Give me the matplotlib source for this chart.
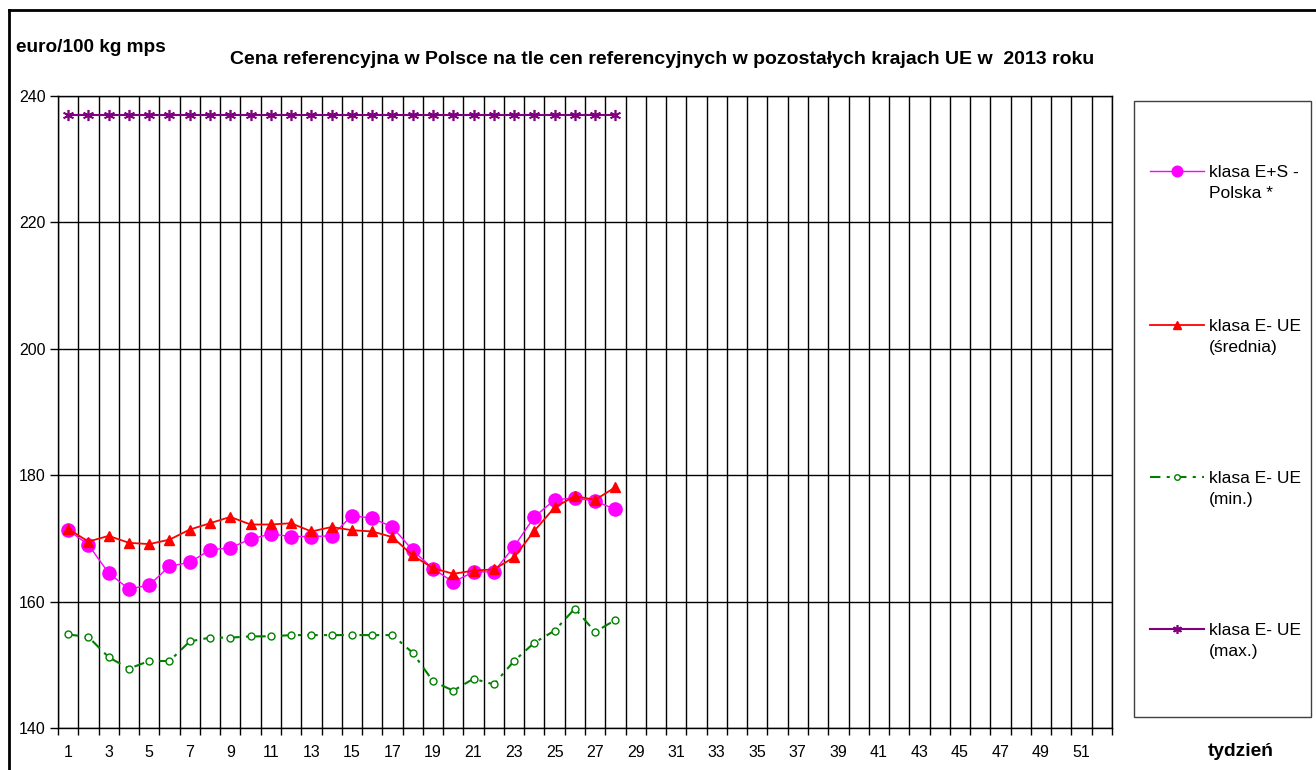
import numpy as np
import matplotlib.pyplot as plt
from matplotlib.lines import Line2D
from matplotlib.patches import Rectangle
from matplotlib.ticker import MultipleLocator, FixedLocator

plt.rcParams['font.family'] = ['Liberation Sans', 'DejaVu Sans']

# -------------------- data --------------------
weeks = np.arange(1, 29)
polska_es = [171.3, 169.0, 164.5, 162.0, 162.6, 165.6, 166.2, 168.2, 168.5, 169.9,
             170.7, 170.3, 170.3, 170.4, 173.6, 173.2, 171.8, 168.1, 165.2, 163.1,
             164.7, 164.7, 168.7, 173.4, 176.1, 176.4, 175.9, 174.6]
ue_avg = [171.5, 169.5, 170.4, 169.3, 169.1, 169.8, 171.4, 172.4, 173.4, 172.2,
          172.2, 172.4, 171.1, 171.8, 171.3, 171.1, 170.2, 167.3, 165.3, 164.4,
          164.9, 165.1, 167.0, 171.2, 174.9, 176.7, 176.1, 178.1]
ue_min = [154.8, 154.4, 151.2, 149.4, 150.6, 150.6, 153.7, 154.3, 154.3, 154.5,
          154.5, 154.7, 154.7, 154.7, 154.7, 154.7, 154.7, 151.9, 147.4, 145.9,
          147.8, 146.9, 150.6, 153.5, 155.4, 158.9, 155.2, 157.1]
ue_max = [237.0] * 28

labels = ["klasa E+S -\nPolska *", "klasa E- UE\n(średnia)",
          "klasa E- UE\n(min.)", "klasa E- UE\n(max.)"]
n_weeks = 52

# -------------------- styles --------------------
MAGENTA = '#FF00FF'
RED = '#FF0000'
GREEN = '#008000'
PURPLE = '#800080'
star = (6, 2, 0)
styles = [
    dict(color=MAGENTA, lw=1.0, marker='o', ms=9.5, mfc=MAGENTA, mec=MAGENTA),
    dict(color=RED, lw=1.3, marker='^', ms=7.5, mfc=RED, mec=RED),
    dict(color=GREEN, lw=1.5, ls=(0, (5, 3, 1.5, 3)), marker='o', ms=5,
         mfc='white', mec=GREEN, mew=1.0),
    dict(color=PURPLE, lw=1.5, marker=star, ms=8, mec=PURPLE, mew=1.2),
]

W, H = 1316, 770
fig = plt.figure(figsize=(W / 100, H / 100), dpi=100)
ax = fig.add_axes([58 / W, 1 - 728 / H, (1112 - 58) / W, (728 - 96) / H])

series = [polska_es, ue_avg, ue_min, ue_max]
for vals, st in zip(series, styles):
    ax.plot(weeks, vals, **st, zorder=3)

ax.set_xlim(0.5, n_weeks + 0.5)
ax.set_ylim(140, 240)
ax.yaxis.set_major_locator(MultipleLocator(20))
ax.xaxis.set_major_locator(FixedLocator(np.arange(1, n_weeks + 1, 2)))
ax.xaxis.set_minor_locator(FixedLocator(np.arange(0.5, n_weeks + 1, 1)))
ax.grid(True, which='minor', axis='x', color='black', lw=1.0)
ax.grid(True, which='major', axis='y', color='black', lw=1.0)
ax.tick_params(axis='x', which='major', length=0, pad=12, labelsize=11.5)
ax.tick_params(axis='x', which='minor', length=5, width=1, direction='out')
ax.tick_params(axis='y', length=6, width=1, direction='out', labelsize=11.5, pad=3)
for sp in ax.spines.values():
    sp.set_linewidth(1.0)
    sp.set_color('black')

# texts
fig.text(16 / W, 1 - 47 / H, "euro/100 kg mps", fontsize=13.7, fontweight='bold',
         va='center', ha='left')
fig.text(662 / W, 1 - 60 / H,
         "Cena referencyjna w Polsce na tle cen referencyjnych w pozostałych krajach UE w  2013 roku",
         fontsize=14, fontweight='bold', va='center', ha='center')
fig.text(1241 / W, 1 - 752 / H, "tydzień", fontsize=13.8, fontweight='bold',
         va='center', ha='center')

# legend box
fig.add_artist(Rectangle((1134 / W, 1 - 717 / H), (1311 - 1134) / W, (717 - 101) / H,
                         transform=fig.transFigure, fill=False, ec='#404040', lw=1.0))
entry_y = [171, 325, 477, 629]
for lab, st, ey in zip(labels, styles, entry_y):
    yy = 1 - ey / H
    fig.add_artist(Line2D([1150 / W, 1177 / W, 1204 / W], [yy, yy, yy],
                          transform=fig.transFigure, markevery=[1],
                          **{**st, 'ms': st['ms'] * 0.8}))
    fig.text(1209 / W, yy + 6 / H, lab, fontsize=12.5, va='top', ha='left',
             linespacing=1.5, transform=fig.transFigure)

# outer border
fig.add_artist(Line2D([9 / W, 9 / W], [0, 1 - 10 / H], transform=fig.transFigure,
                      color='black', lw=2))
fig.add_artist(Line2D([9 / W, 1], [1 - 10 / H, 1 - 10 / H], transform=fig.transFigure,
                      color='black', lw=2))

fig.savefig("out.png", dpi=100)
